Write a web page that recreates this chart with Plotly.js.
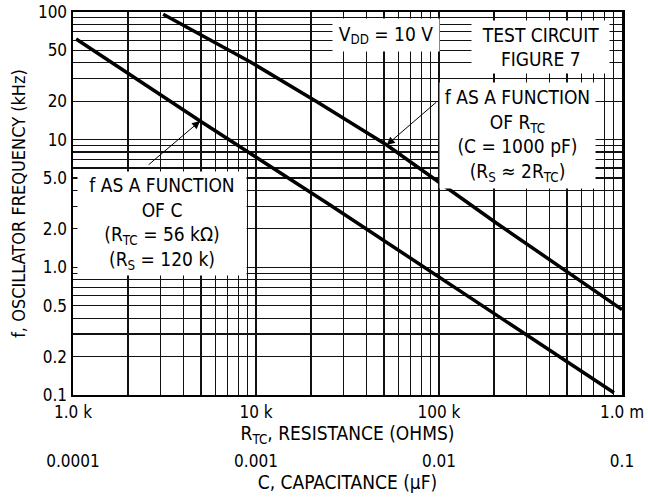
<!DOCTYPE html>
<html>
<head>
<meta charset="utf-8">
<script src="https://cdn.plot.ly/plotly-3.0.1.min.js"></script>
<style>html,body{margin:0;padding:0;background:#fff;}#chart{width:648px;height:504px;}</style>
</head>
<body>
<div id="chart"></div>
<script>
// ---- data ----
// f as a function of R_TC (C = 1000 pF)
const rtcOhms = [3110, 9270, 21500, 51800, 206500, 1000000];
const freqVsR = [96, 40.8, 19.85, 9.09, 2.215, 0.467];
// f as a function of C (R_TC = 56 k)
const capUF = [0.000104, 0.000495, 0.00254, 0.0904];
const freqVsC = [61.5, 14.0, 3.08, 0.104];

// ---- tick labels ----
const rTickVals = [1e3, 1e4, 1e5, 1e6];
const rTickLabels = ['1.0 k', '10 k', '100 k', '1.0 m'];
const cTickVals = [0.0001, 0.001, 0.01, 0.1];
const cTickLabels = ['0.0001', '0.001', '0.01', '0.1'];
const fTickVals = [0.1, 0.2, 0.5, 1, 2, 5, 10, 20, 50, 100];
const fTickLabels = ['0.1', '0.2', '0.5', '1.0', '2.0', '5.0', '10', '20', '50', '100'];

// grid positions: every 1..9 multiple within each decade
function logGrid(startDecade, endDecade) {
  const v = [];
  for (let d = startDecade; d < endDecade; d *= 10) {
    for (let m = 1; m <= 9; m++) v.push(+(m * d).toPrecision(6));
  }
  v.push(endDecade);
  return v;
}
const xGrid = logGrid(1e3, 1e6);
const yGrid = logGrid(0.1, 100);

const FONT = '"DejaVu Sans Condensed", "Liberation Sans", Arial, sans-serif';

const traces = [
  { x: rtcOhms, y: freqVsR, xaxis: 'x', yaxis: 'y', mode: 'lines',
    line: { color: '#000', width: 3.5 }, hoverinfo: 'skip', showlegend: false },
  { x: capUF, y: freqVsC, xaxis: 'x2', yaxis: 'y', mode: 'lines',
    line: { color: '#000', width: 3.5 }, hoverinfo: 'skip', showlegend: false }
];

const boxText = { family: FONT, size: 19, color: '#000' };
const tickFont = { family: FONT, size: 17, color: '#000' };
const titleFont = { family: FONT, size: 19, color: '#000' };
const gridStyle = { tickmode: 'array', showgrid: true, gridcolor: '#111', gridwidth: 1.2, ticks: '' };

const layout = {
  width: 648, height: 504,
  margin: { l: 73, r: 26, t: 12, b: 55 },
  paper_bgcolor: '#fff', plot_bgcolor: '#fff',
  font: { family: FONT, size: 17, color: '#000' },
  showlegend: false,
  xaxis: {
    type: 'log', range: [3, 6], domain: [0, 1], anchor: 'y',
    tickmode: 'array', tickvals: rTickVals, ticktext: rTickLabels,
    ticks: '', showgrid: true, gridcolor: '#111', gridwidth: 1.2,
    minor: Object.assign({ tickvals: xGrid }, gridStyle),
    showline: true, linecolor: '#000', linewidth: 2.5, mirror: true,
    zeroline: false, automargin: false,
    tickfont: tickFont,
    title: { text: 'R<sub>TC</sub>, RESISTANCE (OHMS)', font: titleFont, standoff: 0 }
  },
  xaxis2: {
    type: 'log', range: [-4, -1], overlaying: 'x', anchor: 'free', position: 0,
    tickmode: 'array', tickvals: cTickVals, ticktext: cTickLabels,
    ticks: '', showgrid: false, showline: false, zeroline: false, automargin: false,
    tickfont: tickFont,
    title: { text: 'C, CAPACITANCE (μF)', font: titleFont, standoff: 0 }
  },
  yaxis: {
    type: 'log', range: [-1, 2], domain: [0.1236, 1], anchor: 'x',
    tickmode: 'array', tickvals: fTickVals, ticktext: fTickLabels,
    ticks: '', showgrid: true, gridcolor: '#111', gridwidth: 1.2,
    minor: Object.assign({ tickvals: yGrid }, gridStyle),
    showline: true, linecolor: '#000', linewidth: 2.5, mirror: true,
    zeroline: false, automargin: false, ticklabelstandoff: 0,
    tickfont: tickFont,
    title: { text: 'f, OSCILLATOR FREQUENCY (kHz)', font: { family: FONT, size: 18, color: '#000' }, standoff: 8 }
  },
  annotations: [
    { xref: 'paper', yref: 'paper', x: 0.570, y: 0.947, xanchor: 'center', yanchor: 'middle',
      text: 'V<sub>DD</sub> = 10 V', showarrow: false, bgcolor: '#fff', borderpad: 0,
      width: 106, height: 32, font: boxText },
    { xref: 'paper', yref: 'paper', x: 0.852, y: 0.921, xanchor: 'center', yanchor: 'middle',
      text: 'TEST CIRCUIT<br>FIGURE 7', showarrow: false, bgcolor: '#fff', borderpad: 0,
      width: 137, height: 52, font: boxText },
    { xref: 'paper', yref: 'paper', x: 0.809, y: 0.718, xanchor: 'center', yanchor: 'middle',
      text: 'f AS A FUNCTION<br>OF R<sub>TC</sub><br>(C = 1000 pF)<br>(R<sub>S</sub> ≈ 2R<sub>TC</sub>)',
      showarrow: false, bgcolor: '#fff', borderpad: 0, width: 155, height: 105, font: boxText },
    { xref: 'paper', yref: 'paper', x: 0.162, y: 0.516, xanchor: 'center', yanchor: 'middle',
      text: 'f AS A FUNCTION<br>OF C<br>(R<sub>TC</sub> = 56 kΩ)<br>(R<sub>S</sub> = 120 k)',
      showarrow: false, bgcolor: '#fff', borderpad: 0, width: 168, height: 103, font: boxText },
    // arrows pointing at the curves (tips are data points of the curves)
    { xref: 'x', yref: 'y', x: Math.log10(rtcOhms[3]), y: Math.log10(freqVsR[3]),
      text: '', showarrow: true, ax: 51, ay: -44, arrowhead: 2, arrowsize: 1.6, arrowwidth: 1,
      arrowcolor: '#000', standoff: 0, startstandoff: 0 },
    { xref: 'x2', yref: 'y', x: Math.log10(capUF[1]), y: Math.log10(freqVsC[1]),
      text: '', showarrow: true, ax: -53, ay: 45, arrowhead: 2, arrowsize: 1.6, arrowwidth: 1,
      arrowcolor: '#000', standoff: 0, startstandoff: 0 }
  ]
};

Plotly.newPlot('chart', traces, layout, { staticPlot: true, displayModeBar: false });
</script>
</body>
</html>
